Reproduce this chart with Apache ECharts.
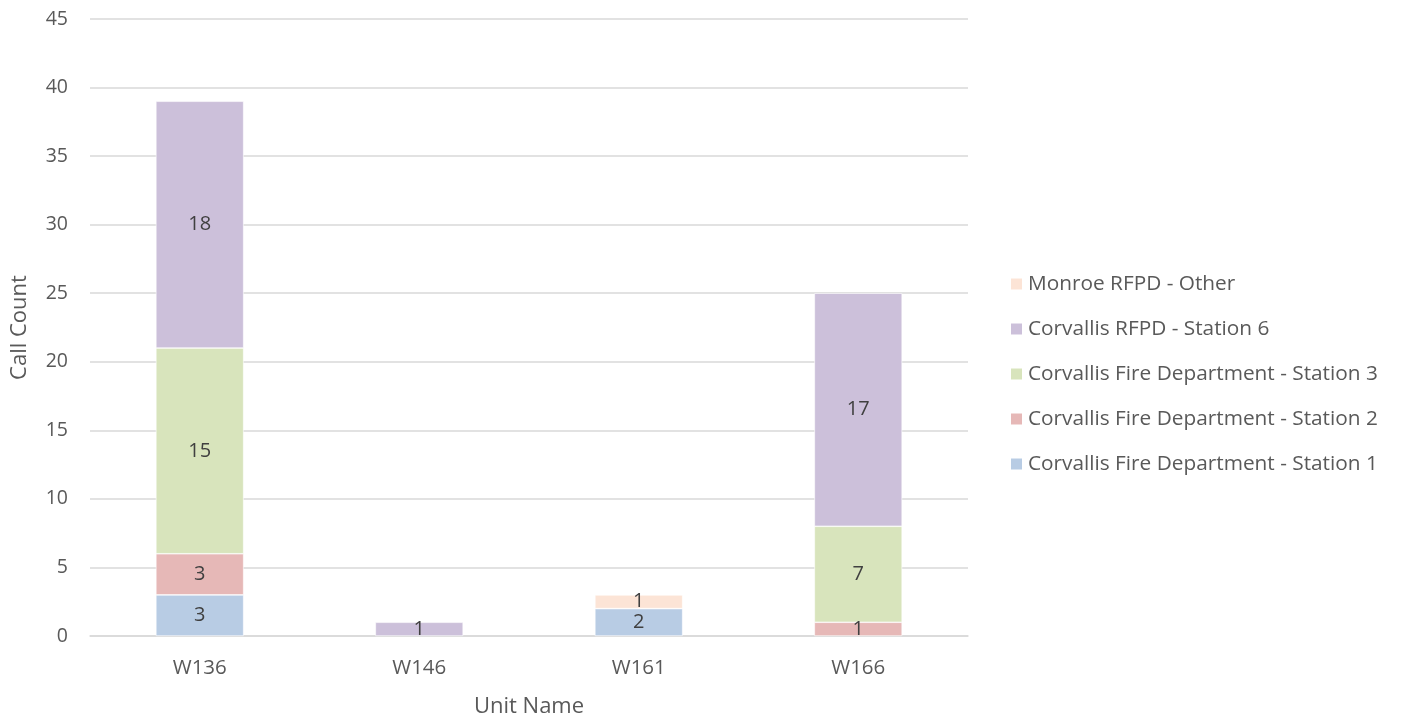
<!DOCTYPE html>
<html>
<head>
<meta charset="utf-8">
<script src="https://cdn.jsdelivr.net/npm/echarts@6/dist/echarts.min.js"></script>
<style>
  html, body { margin: 0; padding: 0; background: #fff; }
  #chart { width: 1402px; height: 717px; }
</style>
</head>
<body>
<div id="chart"></div>
<script>
// categories on the x axis
const units = ['W136', 'W146', 'W161', 'W166']
// stacked series, bottom to top
const station1 = [3, null, 2, null]
const station2 = [3, null, null, 1]
const station3 = [15, null, null, 7]
const station6 = [18, 1, null, 17]
const monroe = [null, null, 1, null]
const seriesNames = [
  'Corvallis Fire Department - Station 1',
  'Corvallis Fire Department - Station 2',
  'Corvallis Fire Department - Station 3',
  'Corvallis RFPD - Station 6',
  'Monroe RFPD - Other'
]
const colors = ['#B8CCE4', '#E6B8B7', '#D8E4BC', '#CCC0DA', '#FCE4D6']
const font = 'Open Sans'

const myChart = echarts.init(document.getElementById('chart'))
const values = [station1, station2, station3, station6, monroe]
myChart.setOption({
  animation: false,
  color: colors,
  textStyle: { fontFamily: font },
  grid: { left: 90, right: 434, top: 19, bottom: 81, outerBoundsMode: 'none', containLabel: false },
  legend: {
    orient: 'vertical',
    left: 1004,
    top: 267,
    itemWidth: 13,
    itemHeight: 13,
    itemGap: 21,
    icon: 'rect',
    data: seriesNames.slice().reverse(),
    textStyle: { fontFamily: font, fontSize: 20.8, color: '#595959', lineHeight: 24 }
  },
  xAxis: {
    type: 'category',
    data: units,
    name: 'Unit Name',
    nameLocation: 'center',
    nameGap: 60,
    nameTextStyle: { fontFamily: font, fontSize: 22, color: '#595959' },
    axisTick: { show: false },
    axisLine: { lineStyle: { color: '#d9d9d9', width: 1.5 } },
    axisLabel: { fontFamily: font, fontSize: 20.5, color: '#595959', margin: 22 }
  },
  yAxis: {
    type: 'value',
    min: 0,
    max: 45,
    interval: 5,
    name: 'Call Count',
    nameLocation: 'center',
    nameGap: 59,
    nameTextStyle: { fontFamily: font, fontSize: 22, color: '#595959' },
    axisLine: { show: false },
    axisTick: { show: false },
    splitLine: { lineStyle: { color: '#d9d9d9', width: 1.5 } },
    axisLabel: { fontFamily: font, fontSize: 19.5, color: '#595959', margin: 22 }
  },
  series: values.map(function (v, i) {
    return {
      name: seriesNames[i],
      type: 'bar',
      stack: 'total',
      barWidth: '40%',
      data: v,
      itemStyle: { borderColor: '#fff', borderWidth: 0.6 },
      label: {
        show: true,
        position: 'inside',
        fontFamily: font,
        fontSize: 20,
        color: '#404040'
      }
    }
  })
})
window.addEventListener('resize', function () {
  myChart.resize()
})
</script>
</body>
</html>
